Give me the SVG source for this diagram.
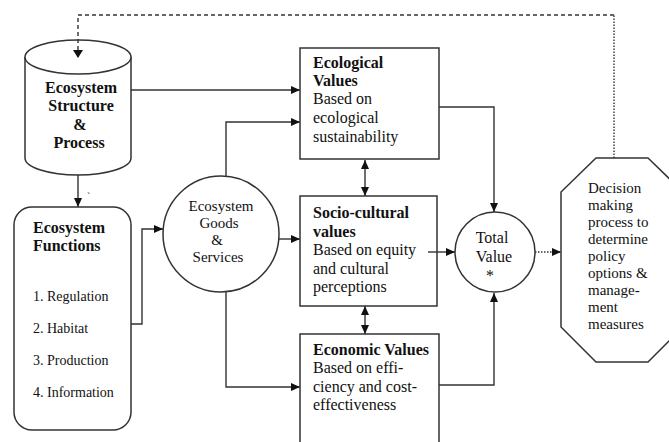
<svg xmlns="http://www.w3.org/2000/svg" width="669" height="442" viewBox="0 0 669 442">
<style>
.s{fill:#fff;stroke:#333;stroke-width:1.5}
.c{fill:none;stroke:#333;stroke-width:1.4}
.t{font-family:"Liberation Serif","Times New Roman",serif;fill:#111}
.b{font-weight:bold}
</style>
<defs>
<marker id="a" markerUnits="userSpaceOnUse" markerWidth="9" markerHeight="8" refX="9" refY="4" orient="auto-start-reverse">
<path d="M0,0 L9,4 L0,8 z" fill="#111"/>
</marker>
</defs>
<rect width="669" height="442" fill="#fff"/>
<g id="connectors">
<path class="c" d="M614,158 V15" stroke-dasharray="1.5,1.5" stroke="#777"/>
<path class="c" d="M614,15 H78 V57" stroke-dasharray="4,3" marker-end="url(#a)"/>
<path class="c" d="M131,90 H300" marker-end="url(#a)"/>
<path class="c" d="M78,175 V207" marker-end="url(#a)"/>
<path class="c" d="M131,324 H142 V229 H163" marker-end="url(#a)"/>
<path class="c" d="M226,176 V122 H300" marker-end="url(#a)"/>
<path class="c" d="M279,239 H300" marker-end="url(#a)"/>
<path class="c" d="M226,291 V387 H300" marker-end="url(#a)"/>
<path class="c" d="M365,160 V196" marker-start="url(#a)" marker-end="url(#a)"/>
<path class="c" d="M365,306 V334" marker-start="url(#a)" marker-end="url(#a)"/>
<path class="c" d="M439,107 H494 V212" marker-end="url(#a)"/>
<path class="c" d="M439,385 H494 V293" marker-end="url(#a)"/>
<path class="c" d="M428,252 H455" marker-end="url(#a)"/>
<path class="c" d="M535,252 H561" stroke="#888" stroke-dasharray="1.5,1.5" marker-end="url(#a)"/>
</g>
<g id="structure">
<path class="s" d="M25,57 V158 A53,17 0 0 0 131,158 V57"/>
<ellipse class="s" cx="78" cy="57" rx="53" ry="17"/>
<path class="c" d="M78,57 V40" stroke-dasharray="4,3"/>
<path d="M73,50 L78,58 L83,50 z" fill="#111"/>
<text class="t b" font-size="16" text-anchor="middle"><tspan x="81" y="93">Ecosystem</tspan><tspan x="81" y="111">Structure</tspan><tspan x="80" y="130">&amp;</tspan><tspan x="79" y="148">Process</tspan></text>
</g>
<g id="functions">
<rect class="s" x="14" y="207" width="117" height="223" rx="18"/>
<text class="t b" font-size="16"><tspan x="33" y="233">Ecosystem</tspan><tspan x="33" y="251">Functions</tspan></text>
<text class="t" font-size="14"><tspan x="33" y="301">1. Regulation</tspan><tspan x="33" y="333">2. Habitat</tspan><tspan x="33" y="365">3. Production</tspan><tspan x="33" y="397">4. Information</tspan></text>
<text class="t" font-size="10" x="87" y="200">`</text>
</g>
<g id="goods">
<circle class="s" cx="221" cy="234" r="58"/>
<text class="t" font-size="15" text-anchor="middle"><tspan x="221" y="211">Ecosystem</tspan><tspan x="219" y="228">Goods</tspan><tspan x="217" y="245">&amp;</tspan><tspan x="218" y="262">Services</tspan></text>
</g>
<g id="ecological">
<rect class="s" x="300" y="48" width="139" height="111"/>
<text class="t" font-size="16"><tspan class="b" x="313" y="68">Ecological</tspan><tspan class="b" x="313" y="86">Values</tspan><tspan x="313" y="104">Based on</tspan><tspan x="313" y="123">ecological</tspan><tspan x="313" y="142">sustainability</tspan></text>
</g>
<g id="sociocultural">
<rect class="s" x="300" y="196" width="137" height="110"/>
<text class="t" font-size="16"><tspan class="b" x="313" y="218">Socio-cultural</tspan><tspan class="b" x="313" y="237">values</tspan><tspan x="313" y="255">Based on equity</tspan><tspan x="313" y="274">and cultural</tspan><tspan x="313" y="292">perceptions</tspan></text>
<path class="c" d="M428,252 H437"/>
</g>
<g id="economic">
<rect class="s" x="300" y="334" width="139" height="120"/>
<text class="t" font-size="16"><tspan class="b" x="313" y="355">Economic Values</tspan><tspan x="313" y="373">Based on effi-</tspan><tspan x="313" y="392">ciency and cost-</tspan><tspan x="313" y="410">effectiveness</tspan></text>
</g>
<g id="total">
<circle class="s" cx="495" cy="252" r="40"/>
<text class="t" font-size="16" text-anchor="middle"><tspan x="492" y="243">Total</tspan><tspan x="494" y="262">Value</tspan><tspan x="490" y="281">*</tspan></text>
</g>
<g id="decision">
<polygon class="s" points="596,158 648,158 683,192 683,327 648,362 596,362 561,327 561,192"/>
<text class="t" font-size="15"><tspan x="588" y="193">Decision</tspan><tspan x="588" y="210">making</tspan><tspan x="588" y="227">process to</tspan><tspan x="588" y="244">determine</tspan><tspan x="588" y="261">policy</tspan><tspan x="588" y="278">options &amp;</tspan><tspan x="588" y="295">manage-</tspan><tspan x="588" y="312">ment</tspan><tspan x="588" y="329">measures</tspan></text>
</g>
</svg>
